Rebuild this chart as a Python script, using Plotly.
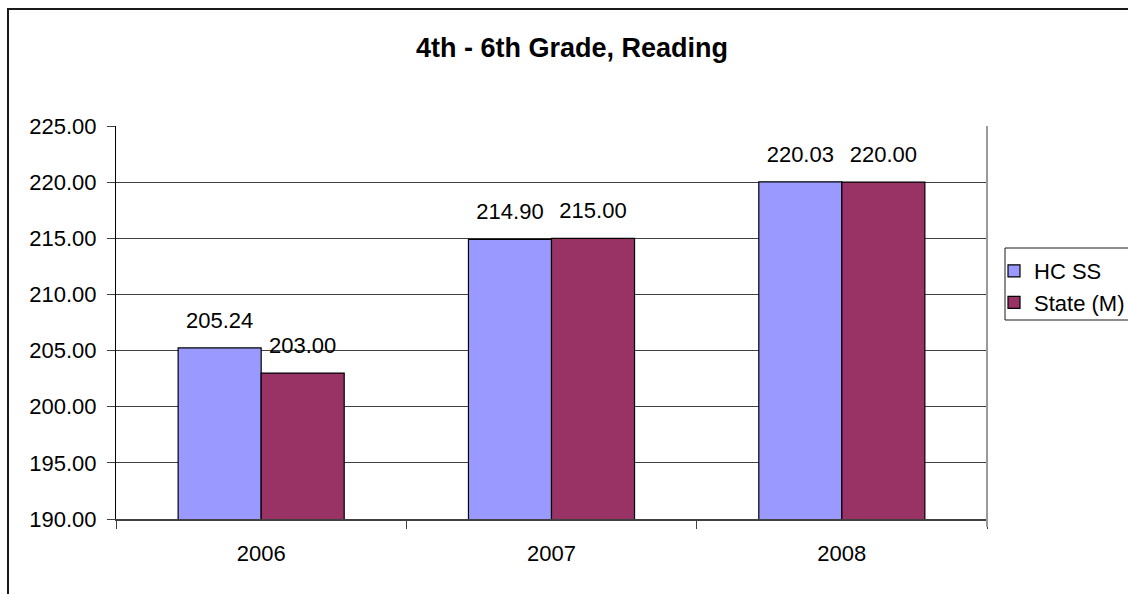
import plotly.graph_objects as go

years = ["2006", "2007", "2008"]
hc_ss = [205.24, 214.90, 220.03]
state_m = [203.00, 215.00, 220.00]
series_names = ["HC SS", "State (M)"]
title_text = "4th - 6th Grade, Reading"
y_ticks = [190, 195, 200, 205, 210, 215, 220, 225]

FONT = "Liberation Sans, Arial, sans-serif"
colors = ["#9999FF", "#993366"]
GAP = 0.428

fig = go.Figure()
for name, vals, col in zip(series_names, [hc_ss, state_m], colors):
    fig.add_trace(go.Bar(
        x=years, y=vals, name=name, offsetgroup=name,
        marker=dict(color=col, line=dict(color="#000000", width=1.2)),
    ))
for name, vals in zip(series_names, [hc_ss, state_m]):
    fig.add_trace(go.Scatter(
        x=years, y=vals, mode="markers+text", offsetgroup=name,
        text=[f"{v:.2f}" for v in vals], textposition="top center",
        textfont=dict(family=FONT, size=22, color="#000000"),
        marker=dict(size=22, opacity=0),
        showlegend=False, hoverinfo="skip", cliponaxis=False,
    ))

fig.update_layout(
    width=1128, height=594,
    margin=dict(l=116, r=141, t=126, b=75, autoexpand=False),
    paper_bgcolor="white", plot_bgcolor="white",
    barmode="group", bargap=GAP, bargroupgap=0,
    scattermode="group", scattergap=GAP,
    font=dict(family=FONT, size=22, color="#000000"),
    title=dict(text=f"<b>{title_text}</b>", x=572 / 1128, xanchor="center",
               y=1 - 48 / 594, yanchor="middle",
               font=dict(family=FONT, size=27, color="#000000")),
    showlegend=True,
    legend=dict(x=(994 - 116) / 871, xanchor="left", y=(519 - 250) / 393, yanchor="top",
                bgcolor="rgba(0,0,0,0)", borderwidth=0,
                font=dict(family=FONT, size=22, color="#000000"),
                tracegroupgap=0, itemwidth=30),
    xaxis=dict(type="category", showgrid=False, showline=True, linecolor="#404040", linewidth=1.5,
               ticks="outside", tickson="boundaries", ticklen=8, tickcolor="#404040",
               tickfont=dict(family=FONT, size=22, color="#000000"), ticklabelstandoff=14),
    yaxis=dict(range=[190, 225], tickvals=y_ticks, tickformat=".2f",
               showgrid=True, gridcolor="#404040", gridwidth=1,
               showline=True, linecolor="#000000", linewidth=1.2,
               ticks="outside", ticklen=8, tickcolor="#404040",
               tickfont=dict(family=FONT, size=22, color="#000000"), ticklabelstandoff=6,
               zeroline=False),
    shapes=[
        dict(type="line", xref="paper", yref="paper", x0=1, x1=1, y0=-8 / 393, y1=1,
             line=dict(color="#9a9a9a", width=2)),
        dict(type="rect", xref="paper", yref="paper",
             x0=(8 - 116) / 871, x1=(1140 - 116) / 871, y0=(519 - 610) / 393, y1=(519 - 9) / 393,
             line=dict(color="#1a1a1a", width=2), fillcolor="rgba(0,0,0,0)", layer="below"),
        dict(type="rect", xref="paper", yref="paper",
             x0=(1005 - 116) / 871, x1=(1140 - 116) / 871, y0=(519 - 320) / 393, y1=(519 - 248) / 393,
             line=dict(color="#1a1a1a", width=1), fillcolor="rgba(0,0,0,0)"),
    ],
)

fig.write_html("out.html")
